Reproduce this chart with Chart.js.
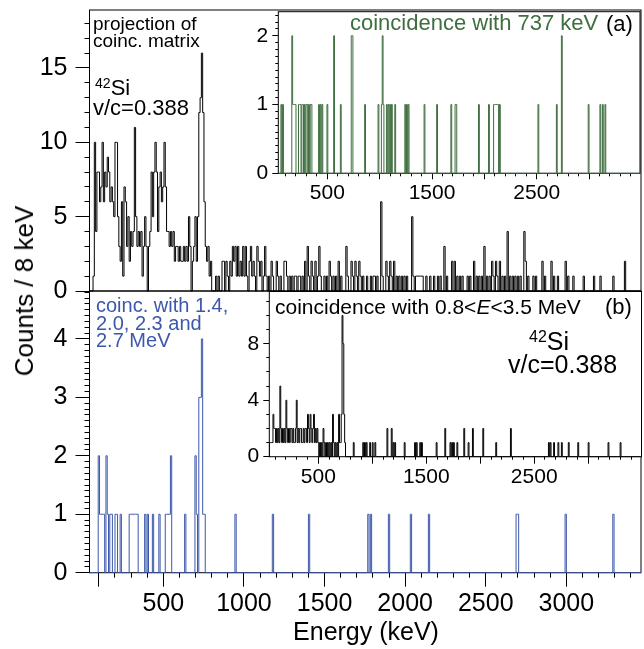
<!DOCTYPE html>
<html>
<head>
<meta charset="utf-8">
<script src="https://cdn.jsdelivr.net/npm/chart.js"></script>
<style>
  body { margin: 0; background: #fff; width: 644px; height: 649px; overflow: hidden; position: relative;
         font-family: "Liberation Sans", Arial, sans-serif; }
  .box { position: absolute; }
  .t { position: absolute; white-space: nowrap; color: #000; line-height: 1; }
  .t sup { font-size: 0.64em; vertical-align: 0; position: relative; top: -0.52em; }
  .rot { position: absolute; width: 0; height: 0; }
  .rot span { position: absolute; white-space: nowrap; line-height: 1; transform: translate(-50%, -50%) rotate(-90deg); }
  .ctr span { position: absolute; white-space: nowrap; line-height: 1; transform: translate(-50%, -50%); }
</style>
</head>
<body>
<div class="box" id="bA" style="left:0;top:0;width:644px;height:311px"><canvas id="cA"></canvas></div>
<div class="box" id="bB" style="left:0;top:280px;width:644px;height:369px"><canvas id="cB"></canvas></div>
<div class="box" id="bIA" style="left:230px;top:0;width:414px;height:210px"><canvas id="cIA"></canvas></div>
<div class="box" id="bIB" style="left:220px;top:280px;width:424px;height:210px"><canvas id="cIB"></canvas></div>

<div class="t" style="left:93px;top:15px;font-size:19px;line-height:17px">projection of<br>coinc. matrix</div>
<div class="t" style="left:95px;top:77px;font-size:22px"><sup>42</sup>Si</div>
<div class="t" style="left:93px;top:97px;font-size:22px">v/c=0.388</div>
<div class="t" style="left:350px;top:12px;font-size:22px;color:#3f6e3f">coincidence with 737 keV</div>
<div class="t" style="left:606px;top:13px;font-size:22px">(a)</div>

<div class="t" style="left:96px;top:297px;font-size:20px;line-height:17.7px;color:#3c58aa">coinc. with 1.4,<br>2.0, 2.3 and<br>2.7 MeV</div>
<div class="t" style="left:275px;top:296px;font-size:21px">coincidence with 0.8&lt;<i>E</i>&lt;3.5 MeV</div>
<div class="t" style="left:605px;top:296px;font-size:22px">(b)</div>
<div class="t" style="left:529px;top:329px;font-size:25px"><sup>42</sup>Si</div>
<div class="t" style="left:508px;top:352px;font-size:25px">v/c=0.388</div>

<div class="rot" style="left:24px;top:291px"><span style="font-size:26px">Counts / 8 keV</span></div>
<div class="rot ctr" style="left:366px;top:631px"><span style="font-size:25px">Energy (keV)</span></div>

<script>
// 8 keV bins
const BIN = 8;

// (a) projection of the coincidence matrix: dense part from 48 keV, then sparse bins
const projStart = 48;
const projDense = [
  0, 0, 1, 10, 4, 8, 8, 6, 7, 10,
  6, 8, 7, 9, 8, 6, 7, 6, 5, 10,
  10, 5, 3, 2, 6, 1, 7, 6, 3, 5,
  2, 4, 3, 4, 11, 5, 3, 4, 3, 4,
  1, 3, 5, 3, 0, 3, 4, 8, 5, 8,
  10, 8, 4, 7, 8, 6, 7, 10, 7, 4,
  4, 3, 4, 3, 4, 2, 3, 3, 2, 3,
  2, 2, 3, 2, 3, 2, 5, 3, 0, 2,
  3, 5, 2, 5, 12, 13, 16, 12, 6, 3,
  2, 3, 1, 2, 0, 0, 0, 1, 0, 1,
  0, 0, 2, 2, 0, 2, 1, 0, 2, 1,
  3, 2, 3, 1, 3, 1, 2, 1, 3
];
const projE = [1000, 1008, 1016, 1032, 1040, 1048, 1056, 1064, 1080, 1088, 1096, 1104, 1120, 1128, 1136, 1152,
  1168, 1176, 1200, 1208, 1224, 1248, 1256, 1264, 1280, 1296, 1312, 1320, 1336, 1344, 1360, 1376, 1392, 1400,
  1416, 1424, 1440, 1456, 1464, 1472, 1496, 1512, 1528, 1536, 1552, 1568, 1584, 1600, 1632, 1640, 1664, 1672,
  1688, 1696, 1712, 1720, 1736, 1760, 1784, 1800, 1808, 1824, 1848, 1856, 1880, 1888, 1904, 1912, 1928, 1944,
  1960, 1976, 1992, 2008, 2040, 2048, 2064, 2072, 2080, 2088, 2096, 2104, 2128, 2152, 2176, 2200, 2216, 2240,
  2256, 2288, 2304, 2320, 2336, 2352, 2384, 2400, 2424, 2440, 2456, 2472, 2488, 2504, 2520, 2536, 2544, 2560,
  2568, 2584, 2600, 2616, 2632, 2648, 2664, 2680, 2696, 2712, 2736, 2744, 2760, 2792, 2808, 2848, 2864, 2904,
  2920, 2944, 2992, 3008, 3040, 3104, 3168, 3208, 3288, 3360];
const projC = [1, 3, 1, 2, 3, 1, 2, 1, 3, 2, 1, 2, 1, 3, 1, 1,
  2, 1, 2, 1, 1, 2, 2, 1, 1, 1, 1, 1, 1, 1, 1, 2, 3, 1,
  2, 1, 2, 1, 3, 1, 1, 1, 2, 1, 1, 1, 2, 1, 3, 1, 2, 1,
  2, 1, 2, 1, 1, 1, 1, 1, 1, 1, 6, 1, 2, 1, 2, 1, 2, 1,
  1, 1, 1, 1, 5, 1, 1, 1, 1, 1, 1, 1, 1, 1, 1, 1, 1, 3,
  1, 2, 2, 1, 1, 1, 1, 1, 2, 1, 1, 1, 3, 1, 1, 2, 1, 2,
  1, 2, 1, 1, 4, 1, 1, 1, 1, 1, 4, 2, 1, 1, 1, 2, 1, 2,
  1, 1, 2, 1, 1, 1, 1, 1, 1, 2];

// (a) inset: coincidence with 737 keV
const gateE = [56, 72, 160, 168, 176, 184, 192, 224, 232, 240, 256, 264, 280, 296, 304, 320, 336, 344, 416, 432,
  448, 496, 560, 624, 728, 736, 856, 984, 1016, 1024, 1032, 1064, 1080, 1096, 1112, 1144, 1240, 1256, 1272,
  1424, 1544, 1680, 1720, 1728, 1944, 2040, 2088, 2096, 2104, 2112, 2120, 2128, 2144, 2512, 2688, 2736, 2992,
  3104, 3128, 3152];
const gateC = [1, 1, 2, 1, 1, 1, 1, 1, 1, 1, 1, 1, 1, 1, 1, 1, 1, 1, 1, 1,
  1, 1, 2, 1, 2, 2, 1, 1, 1, 2, 1, 1, 1, 1, 1, 1, 1, 1, 1,
  1, 1, 1, 1, 1, 1, 1, 1, 1, 1, 1, 1, 1, 1, 1, 1, 2, 1,
  1, 1, 1];

// (b) main: coinc. with 1.4, 2.0, 2.3 and 2.7 MeV
const multiE = [96, 104, 112, 120, 128, 144, 152, 168, 176, 200, 208, 232, 288, 296, 304, 312, 320, 328, 336,
  384, 400, 432, 472, 512, 520, 528, 536, 544, 632, 696, 704, 720, 728, 736, 744, 752, 944, 1176, 1400, 1768,
  1784, 1896, 2032, 2144, 2688, 2696, 2992, 3288];
const multiC = [2, 1, 1, 1, 1, 2, 1, 1, 1, 1, 1, 1, 1, 1, 1, 1, 1, 1, 1,
  1, 1, 1, 1, 1, 1, 1, 1, 2, 1, 2, 1, 3, 3, 4, 1, 1, 1, 1, 1, 1,
  1, 1, 1, 1, 1, 1, 1, 1];

// (b) inset: coincidence with 0.8<E<3.5 MeV
const wideE = [48, 56, 64, 72, 80, 88, 96, 104, 112, 120, 128, 136, 144, 152, 160, 168, 176, 184, 192, 200, 208,
  216, 224, 232, 240, 248, 256, 264, 272, 280, 288, 296, 304, 312, 320, 328, 336, 344, 352, 360, 368, 376, 384,
  392, 400, 408, 416, 424, 432, 440, 448, 456, 464, 472, 480, 488, 496, 512, 528, 544, 552, 568, 584, 600, 616,
  632, 640, 656, 672, 688, 696, 704, 712, 720, 728, 736, 744,
  824, 912, 928, 944, 976, 1000, 1024, 1136, 1176, 1192, 1208, 1296, 1392, 1408, 1440, 1456, 1592, 1672, 1720,
  1736, 1752, 1784, 1848, 1888, 1928, 2024, 2144, 2280, 2632, 2648, 2680, 2720, 2752, 2816, 2904, 3000, 3184, 3296];
const wideC = [1, 1, 1, 1, 3, 2, 2, 1, 2, 1, 2, 1, 5, 2, 1, 2, 1, 2, 1, 4, 2,
  1, 2, 1, 2, 2, 1, 2, 1, 1, 2, 4, 1, 2, 1, 2, 2, 1, 1, 2, 1, 2, 2,
  1, 3, 2, 1, 3, 2, 1, 2, 3, 1, 2, 1, 2, 1, 1, 1, 2, 1, 1, 1, 1, 1,
  3, 1, 1, 1, 3, 1, 1, 3, 10, 8, 3, 1,
  1, 1, 1, 1, 1, 1, 1, 2, 2, 1, 1, 1, 1, 1, 1, 1, 1, 2, 1,
  1, 1, 1, 2, 1, 2, 2, 1, 2, 1, 1, 1, 1, 1, 1, 1, 1, 1, 1];

const lo = 40, hi = 3480;

function histo(E, C) {
  const m = new Map();
  E.forEach((e, i) => m.set(e, C[i]));
  const pts = [];
  for (let e = lo; e < hi; e += BIN) pts.push({ x: e, y: m.get(e) || 0 });
  pts.push({ x: hi, y: 0 });
  return pts;
}

const projAllE = projDense.map((c, i) => projStart + i * BIN).concat(projE);
const projAllC = projDense.concat(projC);

Chart.defaults.font.family = '"Liberation Sans", Arial, Helvetica, sans-serif';
Chart.defaults.color = '#000';
Chart.defaults.animation = false;

function steps(a, b, s) {
  const r = [];
  for (let v = a; v <= b + 1e-9; v += s) r.push(Math.round(v * 100) / 100);
  return r;
}

function axis(pos, min, max, values, o) {
  return {
    type: 'linear', position: pos, min: min, max: max, weight: o.weight || 0,
    afterBuildTicks: s => { s.ticks = values.map(v => ({ value: v })); },
    afterFit: s => {
      if (pos === 'left') s.width = o.size; else s.height = o.size;
      // keep the plot area where the picture has it
      s.paddingTop = 0; s.paddingBottom = 0; s.paddingLeft = 0; s.paddingRight = 0;
    },
    ticks: {
      display: !!o.labels, autoSkip: false, maxRotation: 0, minRotation: 0, padding: o.pad || 0,
      font: { size: o.font || 12 }, color: '#000',
      callback: v => (o.labels && o.labels.includes(v)) ? String(v) : ''
    },
    grid: { display: o.len > 0, drawOnChartArea: false, drawTicks: true, tickLength: o.len || 0,
            tickColor: '#000', tickWidth: 1 },
    border: { display: false }
  };
}

const frame = {
  id: 'frame',
  beforeDatasetsDraw(chart, args, opts) {
    const { ctx, chartArea: a } = chart;
    ctx.save();
    if (opts.fill) {
      ctx.fillStyle = '#fff';
      ctx.fillRect(a.left, a.top, a.right - a.left, a.bottom - a.top);
    }
    ctx.strokeStyle = '#000';
    ctx.lineWidth = 1;
    ctx.strokeRect(a.left, a.top, a.right - a.left, a.bottom - a.top);
    ctx.restore();
  }
};

function histChart(id, data, color, scales, padding, fill) {
  return new Chart(document.getElementById(id), {
    type: 'line',
    data: { datasets: [{ data: data, borderColor: color, borderWidth: 1, pointRadius: 0, stepped: true,
                         fill: false, tension: 0, clip: { left: 0, right: 0, top: 0, bottom: 1 },
                         xAxisID: 'x', yAxisID: 'y' }] },
    options: {
      responsive: true, maintainAspectRatio: false,
      layout: { padding: padding, autoPadding: false },
      plugins: { legend: { display: false }, tooltip: { enabled: false }, frame: { fill: fill } },
      scales: scales
    },
    plugins: [frame]
  });
}

const xMin = 42, xMax = 3463;
const bigMajors = [100, 500, 1000, 1500, 2000, 2500, 3000];
const bigLabels = [500, 1000, 1500, 2000, 2500, 3000];
const insetMajors = [500, 1000, 1500, 2000, 2500, 3000];
const insetLabels = [500, 1500, 2500];
const minors100 = steps(100, 3400, 100);

// panel (a)
histChart('cA', histo(projAllE, projAllC), '#000', {
  x: axis('bottom', xMin, xMax, [500], { size: 20, len: 0 }),
  y: axis('left', 0, 18.9, [0, 5, 10, 15], { size: 89.5, len: 14, labels: [0, 5, 10, 15], font: 25, pad: 8, weight: 1 }),
  ym: axis('left', 0, 18.9, steps(0, 18, 1), { size: 0, len: 5 })
}, { left: 0, right: 3, top: 10, bottom: 0 }, false);

// panel (b)
histChart('cB', histo(multiE, multiC), '#3c58aa', {
  x: axis('bottom', xMin, xMax, bigMajors, { size: 76.3, len: 14, labels: bigLabels, font: 25, pad: 2, weight: 1 }),
  xm: axis('bottom', xMin, xMax, minors100, { size: 0, len: 5 }),
  y: axis('left', 0, 4.82, [0, 1, 2, 3, 4], { size: 89.5, len: 14, labels: [0, 1, 2, 3, 4], font: 25, pad: 8, weight: 1 }),
  ym: axis('left', 0, 4.82, steps(0, 4.8, 0.1), { size: 0, len: 5 })
}, { left: 0, right: 3, top: 11, bottom: 0 }, false);

// inset (a)
histChart('cIA', histo(gateE, gateC), '#3f6e3f', {
  x: axis('bottom', 31, 3487, insetMajors, { size: 36.7, len: 6, labels: insetLabels, font: 21, pad: 1, weight: 1 }),
  xm: axis('bottom', 31, 3487, minors100, { size: 0, len: 3 }),
  y: axis('left', 0, 2.35, [0, 1, 2], { size: 48.3, len: 6, labels: [0, 1, 2], font: 21, pad: 4, weight: 1 }),
  ym: axis('left', 0, 2.35, steps(0, 2.3, 0.1), { size: 0, len: 3 })
}, { left: 0, right: 4, top: 11.7, bottom: 0 }, true);

// inset (b)
histChart('cIB', histo(wideE, wideC), '#000', {
  x: axis('bottom', 46, 3494, insetMajors, { size: 33.3, len: 7, labels: insetLabels, font: 21, pad: 1, weight: 1 }),
  xm: axis('bottom', 46, 3494, minors100, { size: 0, len: 3 }),
  y: axis('left', 0, 11.7, [0, 4, 8], { size: 49.3, len: 6, labels: [0, 4, 8], font: 21, pad: 4, weight: 1 }),
  ym: axis('left', 0, 11.7, steps(0, 11, 1), { size: 0, len: 3 })
}, { left: 0, right: 2.5, top: 11.5, bottom: 0 }, true);
</script>
</body>
</html>
